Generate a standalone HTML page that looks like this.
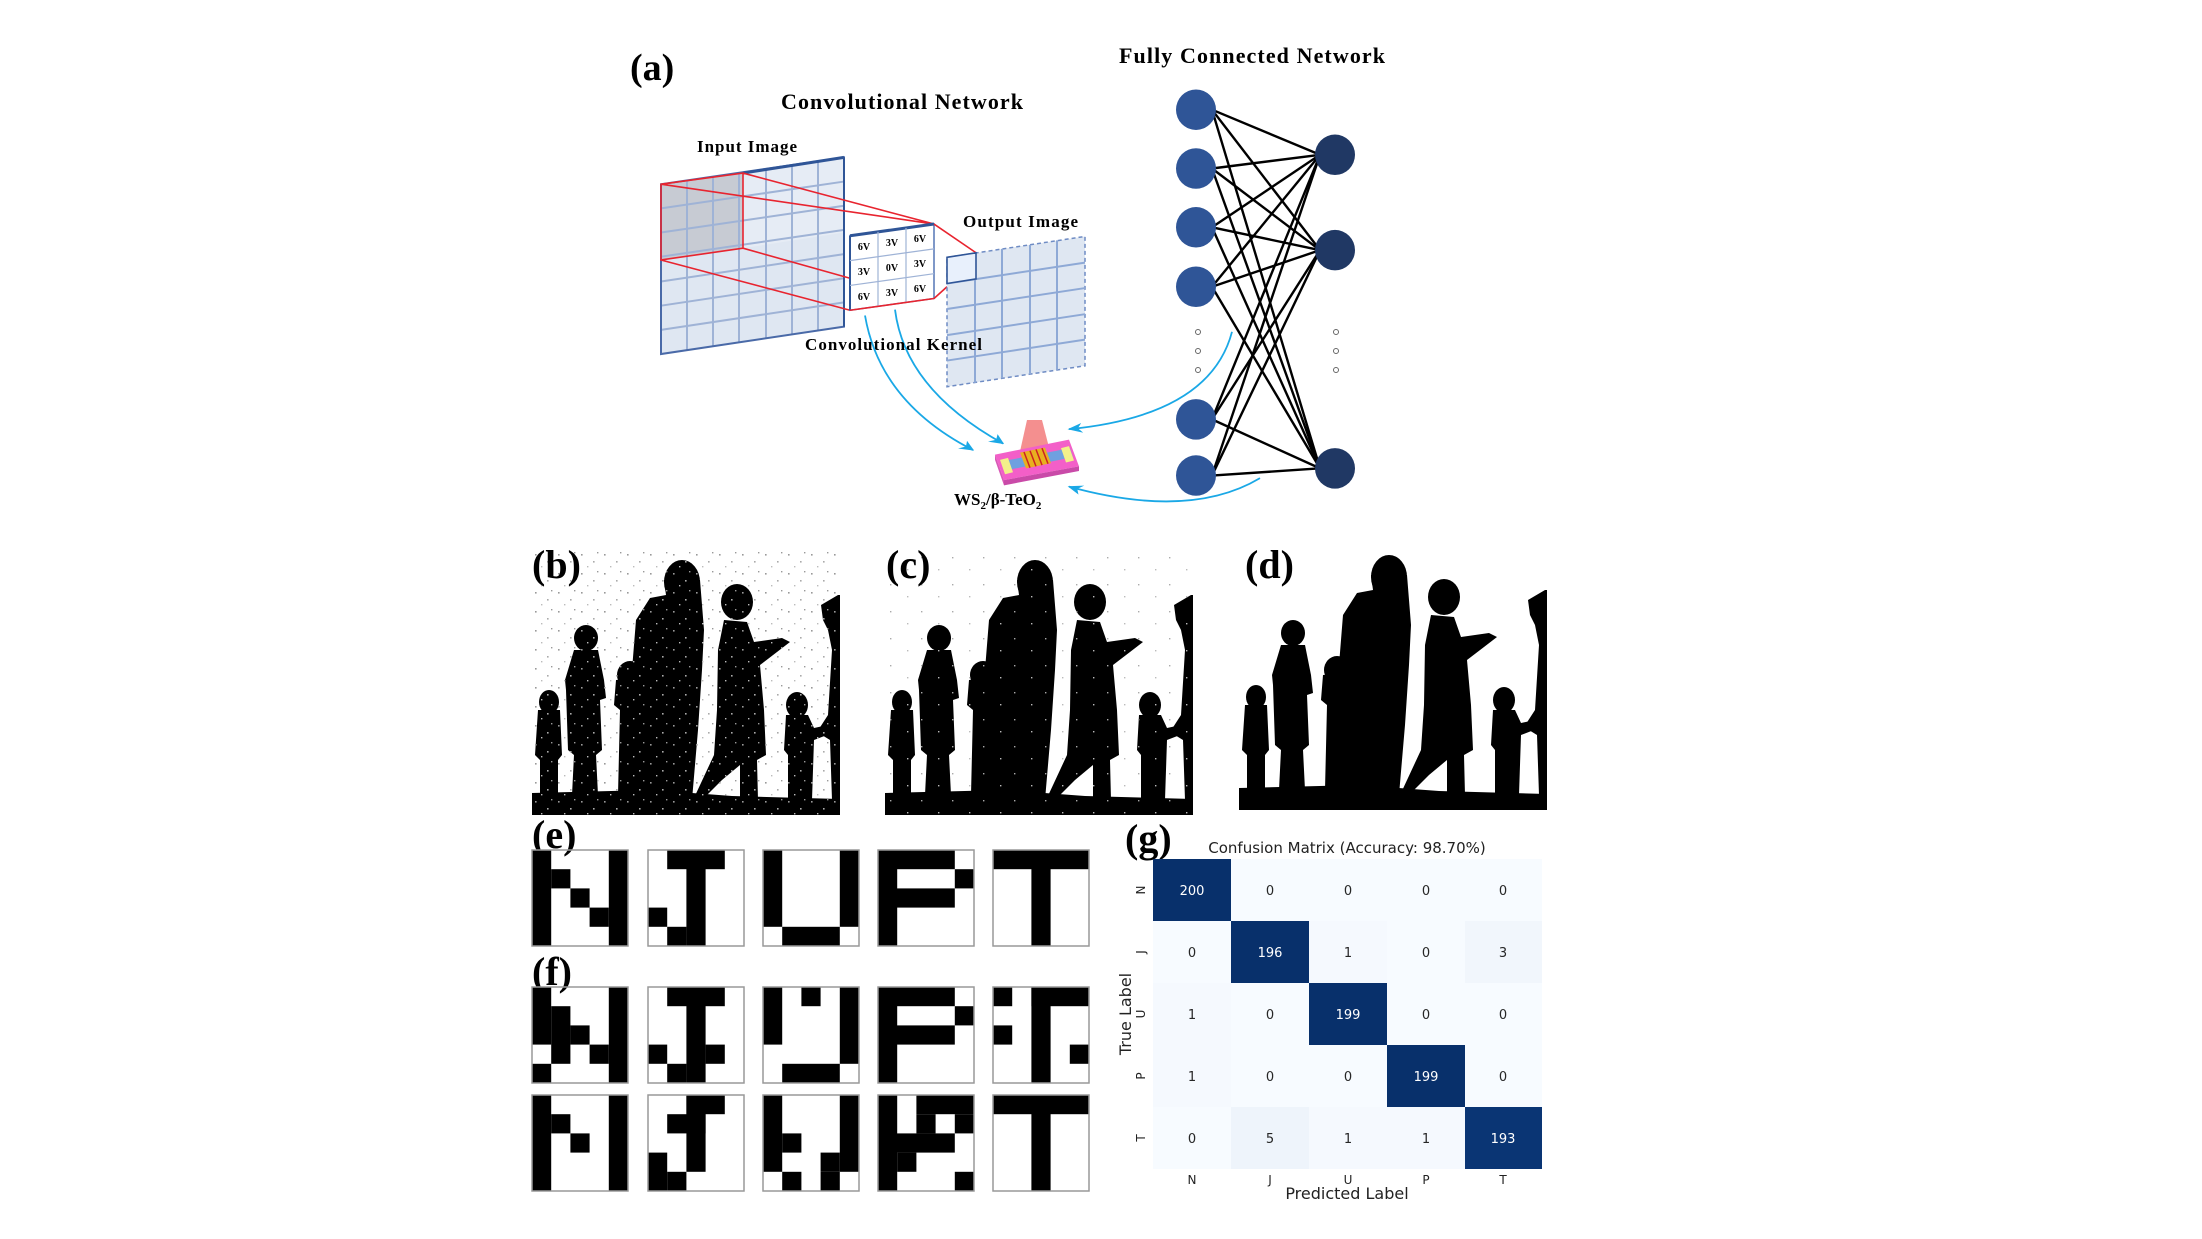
<!DOCTYPE html>
<html><head><meta charset="utf-8"><style>
html,body{margin:0;padding:0;background:#fff;}
svg{display:block;}
.s{font-family:"Liberation Serif",serif;font-weight:bold;fill:#000;}
.d{font-family:"DejaVu Sans","Liberation Sans",sans-serif;}
.a *{vector-effect:non-scaling-stroke;}
</style></head><body>
<svg width="2202" height="1239" viewBox="0 0 2202 1239" xmlns="http://www.w3.org/2000/svg">
<defs>
<g id="sil">
  <polygon points="0,243 120,240 200,246 308,249 308,265 0,265"/>
  <ellipse cx="17" cy="152" rx="10" ry="12"/>
  <path d="M6,160 L28,160 L30,205 L26,210 L26,245 L8,245 L8,210 L3,205 Z"/>
  <ellipse cx="54" cy="88" rx="12" ry="13"/>
  <path d="M42,100 L66,100 L72,130 L74,148 L68,150 L70,200 L64,205 L66,245 L40,245 L42,205 L36,200 L34,140 L33,130 Z"/>
  <ellipse cx="98" cy="125" rx="13" ry="14"/>
  <path d="M84,130 L110,128 L112,245 L86,245 L88,160 L82,155 Z"/>
  <ellipse cx="150" cy="32" rx="18" ry="22"/>
  <path d="M132,30 L168,30 L172,80 L170,120 L166,180 L160,250 L104,250 L106,170 L100,120 L104,70 L118,48 L134,45 Z"/>
  <ellipse cx="205" cy="52" rx="16" ry="18"/>
  <path d="M192,70 L215,72 L222,92 L250,88 L258,92 L245,102 L228,115 L232,160 L234,205 L225,210 L226,250 L208,250 L208,215 L190,230 L168,252 L162,248 L182,205 L185,160 L186,100 Z"/>
  <ellipse cx="265" cy="155" rx="11" ry="13"/>
  <path d="M254,165 L276,165 L282,178 L296,175 L295,185 L282,190 L280,250 L256,250 L256,205 L252,200 Z"/>
  <path d="M289,55 L306,45 L308,45 L308,250 L300,250 L298,190 L285,182 L296,165 L300,100 L296,80 L291,70 Z"/>
</g>
<pattern id="noise" width="23" height="19" patternUnits="userSpaceOnUse">
  <rect x="3" y="4" width="1.6" height="1.6" fill="#999"/>
  <rect x="15" y="11" width="1.6" height="1.6" fill="#aaa"/>
  <rect x="9" y="16" width="1.4" height="1.4" fill="#bbb"/>
  <rect x="19" y="2" width="1.4" height="1.4" fill="#999"/>
</pattern>
<pattern id="noise2" width="31" height="27" patternUnits="userSpaceOnUse">
  <rect x="5" y="7" width="1.4" height="1.4" fill="#aaa"/>
  <rect x="22" y="19" width="1.4" height="1.4" fill="#bbb"/>
</pattern>
<marker id="ar" viewBox="0 0 10 10" refX="9" refY="5" markerWidth="7" markerHeight="7" orient="auto-start-reverse"><path d="M0,0 L10,5 L0,10 L3,5 Z" fill="#1aa8e6"/></marker>
</defs>

<!-- ===== Panel (a) shapes (vertically compressed group) ===== -->
<g class="a" transform="translate(0,10.4) scale(1,0.6533)">
<polygon points="661,266 844,225 844,484 661,526" fill="#dfe7f2"/>
<polygon points="661,266 743,249 743,364 661,382" fill="#c7cbd3"/>
<polygon points="743,249 844,227 844,340 743,364" fill="#e6ecf5"/>
<path d="M687,260 L687,520 M713,254 L713,514 M739,248 L739,508 M766,243 L766,502 M792,237 L792,496 M818,231 L818,490 M661,303 L844,262 M661,340 L844,299 M661,377 L844,336 M661,415 L844,373 M661,452 L844,410 M661,489 L844,447" stroke="#9fb3d6" stroke-width="2" fill="none"/>
<polygon points="661,266 844,225 844,484 661,526" fill="none" stroke="#4a6aa8" stroke-width="2"/>
<line x1="743" y1="249" x2="844" y2="225" stroke="#2f5597" stroke-width="3"/>
<line x1="844" y1="225" x2="844" y2="484" stroke="#2f5597" stroke-width="2"/>
<path d="M661,266 L743,249 L743,364 L661,382 Z M661,266 L934,327 M743,249 L934,327 M661,382 L850,459 M743,364 L850,410" stroke="#e8242f" stroke-width="1.6" fill="none"/>
<polygon points="850,345 934,327 934,441 850,459" fill="#fff" stroke="#5577b5" stroke-width="1.5"/>
<line x1="850" y1="345" x2="934" y2="327" stroke="#2f5597" stroke-width="3"/>
<line x1="850" y1="345" x2="850" y2="459" stroke="#2f5597" stroke-width="2"/>
<path d="M878,339 L878,453 M906,333 L906,447 M850,383 L934,365 M850,421 L934,403" stroke="#9fb3d6" stroke-width="1.2"/>
<path d="M934,327 L976,371 M934,441 L947,423 M850,459 L934,441" stroke="#e8242f" stroke-width="1.6" fill="none"/>
<polygon points="947,378 1085,346 1085,544 947,576" fill="#dfe7f2" stroke="#6f8cc4" stroke-width="1.5" stroke-dasharray="4,3"/>
<path d="M975,372 L975,570 M1002,365 L1002,563 M1030,359 L1030,557 M1057,352 L1057,550 M947,418 L1085,386 M947,457 L1085,425 M947,497 L1085,465 M947,536 L1085,504" stroke="#8ea9d6" stroke-width="2"/>
<polygon points="947,378 976,371 976,411 947,418" fill="#e8f0fc" stroke="#2f5597" stroke-width="1.6"/>

<polygon points="1027,627 1042,627 1050,675 1020,675" fill="#f06a6a" opacity="0.75"/>
<polygon points="995,680 1069,657 1079,698 1004,719" fill="#f35fc8"/>
<polygon points="1004,719 1079,698 1079,705 1004,727" fill="#c94aa8"/>
<polygon points="995,680 1004,719 1004,727 995,688" fill="#d858b6"/>
<polygon points="1003,690 1070,670 1073,684 1006,704" fill="#6fa0e0"/>
<polygon points="1000,688 1008,685 1013,707 1005,710" fill="#f3f08a"/>
<polygon points="1061,670 1069,667 1074,689 1066,692" fill="#f3f08a"/>
<polygon points="1020,677 1045,669 1051,693 1026,701" fill="#e8b020"/>
<path d="M1024,676 L1030,700 M1030,674 L1036,698 M1036,672 L1042,696 M1042,670 L1048,694" stroke="#c22" stroke-width="1.5"/>

<g stroke="#000" stroke-width="2.4">
<line x1="1212" y1="152" x2="1320" y2="221"/><line x1="1212" y1="152" x2="1320" y2="367"/><line x1="1212" y1="152" x2="1320" y2="701"/>
<line x1="1212" y1="242" x2="1320" y2="221"/><line x1="1212" y1="242" x2="1320" y2="367"/><line x1="1212" y1="242" x2="1320" y2="701"/>
<line x1="1212" y1="332" x2="1320" y2="221"/><line x1="1212" y1="332" x2="1320" y2="367"/><line x1="1212" y1="332" x2="1320" y2="701"/>
<line x1="1212" y1="423" x2="1320" y2="221"/><line x1="1212" y1="423" x2="1320" y2="367"/><line x1="1212" y1="423" x2="1320" y2="701"/>
<line x1="1212" y1="626" x2="1320" y2="221"/><line x1="1212" y1="626" x2="1320" y2="367"/><line x1="1212" y1="626" x2="1320" y2="701"/>
<line x1="1212" y1="712" x2="1320" y2="221"/><line x1="1212" y1="712" x2="1320" y2="367"/><line x1="1212" y1="712" x2="1320" y2="701"/>
</g>
<g fill="#2f5597">
<ellipse cx="1196" cy="152" rx="20" ry="31"/><ellipse cx="1196" cy="242" rx="20" ry="31"/><ellipse cx="1196" cy="332" rx="20" ry="31"/><ellipse cx="1196" cy="423" rx="20" ry="31"/><ellipse cx="1196" cy="626" rx="20" ry="31"/><ellipse cx="1196" cy="712" rx="20" ry="31"/>
</g>
<g fill="#203864">
<ellipse cx="1335" cy="221" rx="20" ry="31"/><ellipse cx="1335" cy="367" rx="20" ry="31"/><ellipse cx="1335" cy="701" rx="20" ry="31"/>
</g>
<g stroke="#1aa8e6" stroke-width="1.8" fill="none" marker-end="url(#ar)">
<path d="M865,467 Q880,600 973,673"/>
<path d="M895,458 Q905,580 1003,663"/>
<path d="M1232,492 Q1210,620 1069,641"/>
<path d="M1260,716 Q1190,780 1069,729"/>
</g>
</g>
<g fill="none" stroke="#666" stroke-width="1">
<circle cx="1198" cy="332" r="2.5"/><circle cx="1198" cy="351" r="2.5"/><circle cx="1198" cy="370" r="2.5"/>
<circle cx="1336" cy="332" r="2.5"/><circle cx="1336" cy="351" r="2.5"/><circle cx="1336" cy="370" r="2.5"/>
</g>

<!-- panel (a) text -->
<text x="630" y="80" class="s" font-size="38">(a)</text>
<text x="1119" y="63" class="s" font-size="22" textLength="266">Fully Connected Network</text>
<text x="781" y="109" class="s" font-size="22" textLength="242">Convolutional Network</text>
<text x="697" y="152" class="s" font-size="17" textLength="100">Input Image</text>
<text x="963" y="227" class="s" font-size="17" textLength="115">Output Image</text>
<text x="805" y="350" class="s" font-size="17" textLength="177">Convolutional Kernel</text>
<text x="954" y="505" class="s" font-size="17">WS<tspan font-size="11" dy="4">2</tspan><tspan dy="-4">/β-TeO</tspan><tspan font-size="11" dy="4">2</tspan></text>
<g class="s" font-size="10" text-anchor="middle">
<text x="864" y="250">6V</text><text x="892" y="246">3V</text><text x="920" y="242">6V</text>
<text x="864" y="275">3V</text><text x="892" y="271">0V</text><text x="920" y="267">3V</text>
<text x="864" y="300">6V</text><text x="892" y="296">3V</text><text x="920" y="292">6V</text>
</g>

<!-- ===== Panels b c d ===== -->
<g transform="translate(532,550)">
<rect width="308" height="265" fill="#fff"/>
<use href="#sil"/>
<rect width="308" height="265" fill="url(#noise)"/>
</g>
<g transform="translate(885,550)">
<rect width="308" height="265" fill="#fff"/>
<use href="#sil"/>
<rect width="308" height="265" fill="url(#noise2)"/>
</g>
<g transform="translate(1239,545)">
<use href="#sil"/>
</g>
<text x="532" y="578" class="s" font-size="40">(b)</text>
<text x="886" y="578" class="s" font-size="40">(c)</text>
<text x="1245" y="578" class="s" font-size="40">(d)</text>

<!-- ===== Letter grids ===== -->
<text x="532" y="848" class="s" font-size="40">(e)</text>
<text x="532" y="985" class="s" font-size="40">(f)</text>
<g fill="#000">
<g transform="translate(532,850)">
<rect x="0" y="0" width="19.2" height="96"/><rect x="19.2" y="19.2" width="19.2" height="19.2"/><rect x="38.4" y="38.4" width="19.2" height="19.2"/><rect x="57.6" y="57.6" width="19.2" height="19.2"/><rect x="76.8" y="0" width="19.2" height="96"/>
</g>
<g transform="translate(648,850)">
<rect x="19.2" y="0" width="57.6" height="19.2"/><rect x="38.4" y="0" width="19.2" height="96"/><rect x="0" y="57.6" width="19.2" height="19.2"/><rect x="19.2" y="76.8" width="19.2" height="19.2"/>
</g>
<g transform="translate(763,850)">
<rect x="0" y="0" width="19.2" height="76.8"/><rect x="76.8" y="0" width="19.2" height="76.8"/><rect x="19.2" y="76.8" width="57.6" height="19.2"/>
</g>
<g transform="translate(878,850)">
<rect x="0" y="0" width="19.2" height="96"/><rect x="0" y="0" width="76.8" height="19.2"/><rect x="76.8" y="19.2" width="19.2" height="19.2"/><rect x="0" y="38.4" width="76.8" height="19.2"/>
</g>
<g transform="translate(993,850)">
<rect x="0" y="0" width="96" height="19.2"/><rect x="38.4" y="0" width="19.2" height="96"/>
</g>
<g transform="translate(532,987)">
<rect x="0" y="0" width="19.2" height="57.6"/><rect x="0" y="76.8" width="19.2" height="19.2"/><rect x="19.2" y="19.2" width="19.2" height="57.6"/><rect x="38.4" y="38.4" width="19.2" height="19.2"/><rect x="57.6" y="57.6" width="19.2" height="19.2"/><rect x="76.8" y="0" width="19.2" height="96"/>
</g>
<g transform="translate(648,987)">
<rect x="19.2" y="0" width="57.6" height="19.2"/><rect x="38.4" y="0" width="19.2" height="96"/><rect x="0" y="57.6" width="19.2" height="19.2"/><rect x="57.6" y="57.6" width="19.2" height="19.2"/><rect x="19.2" y="76.8" width="19.2" height="19.2"/>
</g>
<g transform="translate(763,987)">
<rect x="0" y="0" width="19.2" height="57.6"/><rect x="38.4" y="0" width="19.2" height="19.2"/><rect x="76.8" y="0" width="19.2" height="76.8"/><rect x="19.2" y="76.8" width="57.6" height="19.2"/>
</g>
<g transform="translate(878,987)">
<rect x="0" y="0" width="19.2" height="96"/><rect x="0" y="0" width="76.8" height="19.2"/><rect x="76.8" y="19.2" width="19.2" height="19.2"/><rect x="0" y="38.4" width="76.8" height="19.2"/>
</g>
<g transform="translate(993,987)">
<rect x="0" y="0" width="19.2" height="19.2"/><rect x="38.4" y="0" width="57.6" height="19.2"/><rect x="38.4" y="0" width="19.2" height="96"/><rect x="0" y="38.4" width="19.2" height="19.2"/><rect x="76.8" y="57.6" width="19.2" height="19.2"/>
</g>
<g transform="translate(532,1095)">
<rect x="0" y="0" width="19.2" height="96"/><rect x="19.2" y="19.2" width="19.2" height="19.2"/><rect x="38.4" y="38.4" width="19.2" height="19.2"/><rect x="76.8" y="0" width="19.2" height="96"/>
</g>
<g transform="translate(648,1095)">
<rect x="38.4" y="0" width="38.4" height="19.2"/><rect x="19.2" y="19.2" width="38.4" height="19.2"/><rect x="38.4" y="0" width="19.2" height="76.8"/><rect x="0" y="57.6" width="19.2" height="38.4"/><rect x="19.2" y="76.8" width="19.2" height="19.2"/>
</g>
<g transform="translate(763,1095)">
<rect x="0" y="0" width="19.2" height="76.8"/><rect x="19.2" y="38.4" width="19.2" height="19.2"/><rect x="76.8" y="0" width="19.2" height="76.8"/><rect x="57.6" y="57.6" width="19.2" height="19.2"/><rect x="19.2" y="76.8" width="19.2" height="19.2"/><rect x="57.6" y="76.8" width="19.2" height="19.2"/>
</g>
<g transform="translate(878,1095)">
<rect x="0" y="0" width="19.2" height="96"/><rect x="38.4" y="0" width="57.6" height="19.2"/><rect x="38.4" y="19.2" width="19.2" height="19.2"/><rect x="76.8" y="19.2" width="19.2" height="19.2"/><rect x="0" y="38.4" width="76.8" height="19.2"/><rect x="19.2" y="57.6" width="19.2" height="19.2"/><rect x="76.8" y="76.8" width="19.2" height="19.2"/>
</g>
<g transform="translate(993,1095)">
<rect x="0" y="0" width="96" height="19.2"/><rect x="38.4" y="0" width="19.2" height="96"/>
</g>
</g>
<g fill="none" stroke="#999" stroke-width="1.5">
<rect x="532" y="850" width="96" height="96"/><rect x="648" y="850" width="96" height="96"/><rect x="763" y="850" width="96" height="96"/><rect x="878" y="850" width="96" height="96"/><rect x="993" y="850" width="96" height="96"/>
<rect x="532" y="987" width="96" height="96"/><rect x="648" y="987" width="96" height="96"/><rect x="763" y="987" width="96" height="96"/><rect x="878" y="987" width="96" height="96"/><rect x="993" y="987" width="96" height="96"/>
<rect x="532" y="1095" width="96" height="96"/><rect x="648" y="1095" width="96" height="96"/><rect x="763" y="1095" width="96" height="96"/><rect x="878" y="1095" width="96" height="96"/><rect x="993" y="1095" width="96" height="96"/>
</g>

<!-- ===== Confusion matrix ===== -->
<text x="1125" y="852" class="s" font-size="40">(g)</text>
<text x="1347" y="853" class="d" font-size="15" text-anchor="middle" fill="#222">Confusion Matrix (Accuracy: 98.70%)</text>
<rect x="1153" y="859" width="389" height="310" fill="#f7fbff"/>
<g>
<rect x="1153" y="859" width="78" height="62" fill="#08306b"/>
<rect x="1231" y="921" width="78" height="62" fill="#08306b"/>
<rect x="1309" y="983" width="78" height="62" fill="#08306b"/>
<rect x="1387" y="1045" width="78" height="62" fill="#08306b"/>
<rect x="1465" y="1107" width="77" height="62" fill="#0a3574"/>
<rect x="1309" y="921" width="78" height="62" fill="#f5f9fe"/>
<rect x="1465" y="921" width="77" height="62" fill="#f1f6fc"/>
<rect x="1153" y="983" width="78" height="62" fill="#f5f9fe"/>
<rect x="1153" y="1045" width="78" height="62" fill="#f5f9fe"/>
<rect x="1231" y="1107" width="78" height="62" fill="#eef4fb"/>
<rect x="1309" y="1107" width="78" height="62" fill="#f5f9fe"/>
<rect x="1387" y="1107" width="78" height="62" fill="#f5f9fe"/>
</g>
<g class="d" font-size="13" text-anchor="middle" fill="#262626">
<text x="1192" y="895" fill="#fff">200</text><text x="1270" y="895">0</text><text x="1348" y="895">0</text><text x="1426" y="895">0</text><text x="1503" y="895">0</text>
<text x="1192" y="957">0</text><text x="1270" y="957" fill="#fff">196</text><text x="1348" y="957">1</text><text x="1426" y="957">0</text><text x="1503" y="957">3</text>
<text x="1192" y="1019">1</text><text x="1270" y="1019">0</text><text x="1348" y="1019" fill="#fff">199</text><text x="1426" y="1019">0</text><text x="1503" y="1019">0</text>
<text x="1192" y="1081">1</text><text x="1270" y="1081">0</text><text x="1348" y="1081">0</text><text x="1426" y="1081" fill="#fff">199</text><text x="1503" y="1081">0</text>
<text x="1192" y="1143">0</text><text x="1270" y="1143">5</text><text x="1348" y="1143">1</text><text x="1426" y="1143">1</text><text x="1503" y="1143" fill="#fff">193</text>
</g>
<g class="d" font-size="12" text-anchor="middle" fill="#222">
<text x="1192" y="1184">N</text><text x="1270" y="1184">J</text><text x="1348" y="1184">U</text><text x="1426" y="1184">P</text><text x="1503" y="1184">T</text>
<text transform="translate(1145,890) rotate(-90)">N</text>
<text transform="translate(1145,952) rotate(-90)">J</text>
<text transform="translate(1145,1014) rotate(-90)">U</text>
<text transform="translate(1145,1076) rotate(-90)">P</text>
<text transform="translate(1145,1138) rotate(-90)">T</text>
</g>
<text x="1347" y="1199" class="d" font-size="16" text-anchor="middle" fill="#222">Predicted Label</text>
<text transform="translate(1131,1014) rotate(-90)" class="d" font-size="16" text-anchor="middle" fill="#222">True Label</text>
</svg>
</body></html>
